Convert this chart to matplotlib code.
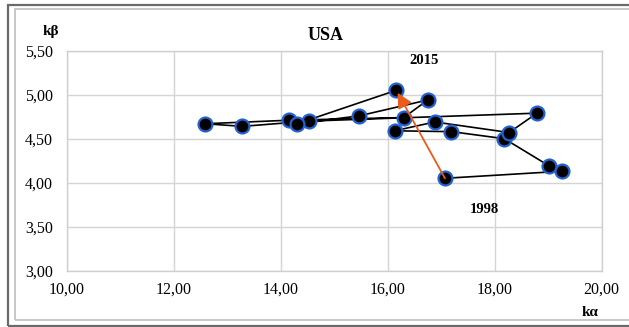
import matplotlib
matplotlib.use("Agg")
import matplotlib.pyplot as plt
from matplotlib.patches import Rectangle

# Trajectory of (k_alpha, k_beta) for the USA, 1998-2015
years = list(range(1998, 2016))
k_alpha = [17.07, 19.26, 19.02, 18.18, 17.19, 16.13, 16.88, 18.27, 18.79,
           14.53, 13.28, 12.59, 14.16, 16.30, 16.75, 15.47, 14.31, 16.16]
k_beta = [4.05, 4.13, 4.19, 4.50, 4.58, 4.59, 4.69, 4.57, 4.79,
          4.70, 4.64, 4.67, 4.71, 4.74, 4.94, 4.76, 4.67, 5.05]

x_ticks = [10, 12, 14, 16, 18, 20]
x_tick_labels = ["10,00", "12,00", "14,00", "16,00", "18,00", "20,00"]
y_ticks = [3.0, 3.5, 4.0, 4.5, 5.0, 5.5]
y_tick_labels = ["3,00", "3,50", "4,00", "4,50", "5,00", "5,50"]

title = "USA"
start_label, end_label = "1998", "2015"
start_label_pos = (17.81, 3.69)
end_label_pos = (16.68, 5.39)

serif = ["Liberation Serif", "DejaVu Serif"]
plt.rcParams["font.family"] = serif

fig = plt.figure(figsize=(6.29, 3.27), dpi=100)
ax = fig.add_axes([0.106, 0.1722, 0.8506, 0.6728])

ax.plot(k_alpha, k_beta, color="black", lw=1.2, zorder=3,
        marker="o", markersize=10, markerfacecolor="black",
        markeredgecolor="#2262d2", markeredgewidth=1.6)

# Arrow from the first year to the last year
ax.annotate("", xy=(k_alpha[-1], k_beta[-1]), xytext=(k_alpha[0], k_beta[0]),
            arrowprops=dict(arrowstyle="-|>,head_length=0.9,head_width=0.45",
                            color="#ec5a1c", lw=1.3, shrinkA=0, shrinkB=2),
            zorder=5)

ax.text(*start_label_pos, start_label, ha="center", va="center",
        fontsize=10.5, fontweight="bold")
ax.text(*end_label_pos, end_label, ha="center", va="center",
        fontsize=10.5, fontweight="bold")

ax.set_xlim(x_ticks[0], x_ticks[-1])
ax.set_ylim(y_ticks[0], y_ticks[-1])
ax.set_xticks(x_ticks)
ax.set_xticklabels(x_tick_labels)
ax.set_yticks(y_ticks)
ax.set_yticklabels(y_tick_labels)
ax.tick_params(axis="x", length=0, labelsize=11.5, pad=8)
ax.tick_params(axis="y", length=0, labelsize=11.5, pad=10)
ax.grid(True, color="#d4d4d4", lw=1.0)
ax.set_axisbelow(True)
for sp in ax.spines.values():
    sp.set_color("#cfcfcf")
    sp.set_linewidth(1.0)

fig.text(326 / 629, 1 - 35 / 327, title, ha="center", va="center",
         fontsize=13, fontweight="bold")
fig.text(43 / 629, 1 - 32 / 327, "kβ", ha="left", va="center",
         fontsize=11, fontweight="bold")
fig.text(582 / 629, 1 - 313 / 327, "kα", ha="left", va="center",
         fontsize=11, fontweight="bold")

# Chart frames (right edges run past the canvas)
fig.patches.append(Rectangle((8 / 629, 1 - 326 / 327), 700 / 629, 321 / 327,
                             transform=fig.transFigure, fill=False,
                             edgecolor="#6a6a6a", lw=1.6))
fig.patches.append(Rectangle((15 / 629, 1 - 320 / 327), 700 / 629, 311 / 327,
                             transform=fig.transFigure, fill=False,
                             edgecolor="#c8c8c8", lw=1.4))

fig.savefig("out.png", dpi=100)
